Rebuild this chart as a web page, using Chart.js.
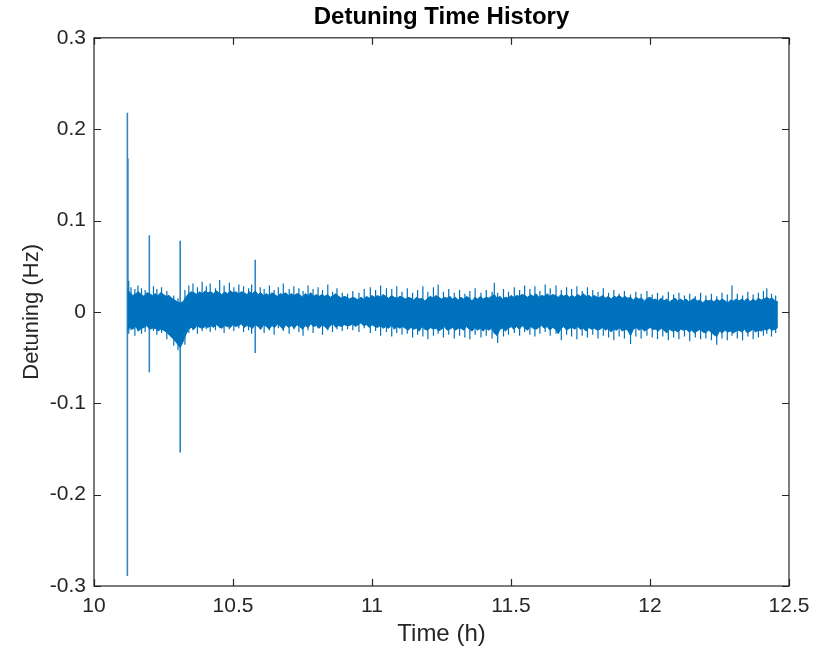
<!DOCTYPE html>
<html lang="en">
<head>
  <meta charset="UTF-8">
  <title>Detuning Time History</title>
  <style>
    body {
      margin: 0;
      background: #ffffff;
    }
    .chart-box {
      width: 825px;
      height: 651px;
    }
  </style>
</head>
<body>
<div class="chart-box">
  <canvas id="detuningChart" width="825" height="651"></canvas>
</div>

<script src="https://cdn.jsdelivr.net/npm/chart.js"></script>
<script>
  // sample times (h) of the noise band envelope
  const times = [
    10.12, 10.13, 10.14, 10.15, 10.16, 10.17, 10.18, 10.19, 10.20, 10.21,
    10.22, 10.23, 10.24, 10.25, 10.26, 10.27, 10.28, 10.29, 10.30, 10.31,
    10.32, 10.33, 10.34, 10.35, 10.36, 10.37, 10.38, 10.39, 10.40, 10.41,
    10.42, 10.43, 10.44, 10.45, 10.46, 10.47, 10.48, 10.49, 10.50, 10.51,
    10.52, 10.53, 10.54, 10.55, 10.56, 10.57, 10.58, 10.59, 10.60, 10.61,
    10.62, 10.63, 10.64, 10.65, 10.66, 10.67, 10.68, 10.69, 10.70, 10.71,
    10.72, 10.73, 10.74, 10.75, 10.76, 10.77, 10.78, 10.79, 10.80, 10.81,
    10.82, 10.83, 10.84, 10.85, 10.86, 10.87, 10.88, 10.89, 10.90, 10.91,
    10.92, 10.93, 10.94, 10.95, 10.96, 10.97, 10.98, 10.99, 11.00, 11.01,
    11.02, 11.03, 11.04, 11.05, 11.06, 11.07, 11.08, 11.09, 11.10, 11.11,
    11.12, 11.13, 11.14, 11.15, 11.16, 11.17, 11.18, 11.19, 11.20, 11.21,
    11.22, 11.23, 11.24, 11.25, 11.26, 11.27, 11.28, 11.29, 11.30, 11.31,
    11.32, 11.33, 11.34, 11.35, 11.36, 11.37, 11.38, 11.39, 11.40, 11.41,
    11.42, 11.43, 11.44, 11.45, 11.46, 11.47, 11.48, 11.49, 11.50, 11.51,
    11.52, 11.53, 11.54, 11.55, 11.56, 11.57, 11.58, 11.59, 11.60, 11.61,
    11.62, 11.63, 11.64, 11.65, 11.66, 11.67, 11.68, 11.69, 11.70, 11.71,
    11.72, 11.73, 11.74, 11.75, 11.76, 11.77, 11.78, 11.79, 11.80, 11.81,
    11.82, 11.83, 11.84, 11.85, 11.86, 11.87, 11.88, 11.89, 11.90, 11.91,
    11.92, 11.93, 11.94, 11.95, 11.96, 11.97, 11.98, 11.99, 12.00, 12.01,
    12.02, 12.03, 12.04, 12.05, 12.06, 12.07, 12.08, 12.09, 12.10, 12.11,
    12.12, 12.13, 12.14, 12.15, 12.16, 12.17, 12.18, 12.19, 12.20, 12.21,
    12.22, 12.23, 12.24, 12.25, 12.26, 12.27, 12.28, 12.29, 12.30, 12.31,
    12.32, 12.33, 12.34, 12.35, 12.36, 12.37, 12.38, 12.39, 12.40, 12.41,
    12.42, 12.43, 12.44, 12.45, 12.46
  ];

  // upper edge of the dense part of the band (Hz)
  const upperEdge = [
    0.024, 0.021, 0.018, 0.020, 0.022, 0.019, 0.017, 0.021, 0.020, 0.018,
    0.020, 0.018, 0.021, 0.019, 0.017, 0.018, 0.015, 0.013, 0.011, 0.010,
    0.011, 0.016, 0.020, 0.022, 0.021, 0.019, 0.022, 0.020, 0.023, 0.021,
    0.022, 0.020, 0.023, 0.021, 0.019, 0.022, 0.020, 0.023, 0.021, 0.022,
    0.020, 0.022, 0.021, 0.019, 0.022, 0.020, 0.023, 0.019, 0.021, 0.018,
    0.020, 0.018, 0.021, 0.019, 0.017, 0.020, 0.019, 0.021, 0.018, 0.020,
    0.018, 0.020, 0.019, 0.016, 0.020, 0.018, 0.021, 0.017, 0.019, 0.017,
    0.019, 0.017, 0.019, 0.016, 0.018, 0.020, 0.017, 0.015, 0.017, 0.016,
    0.014, 0.016, 0.015, 0.013, 0.016, 0.014, 0.017, 0.015, 0.018, 0.016,
    0.018, 0.016, 0.019, 0.017, 0.015, 0.018, 0.016, 0.015, 0.017, 0.016,
    0.014, 0.016, 0.015, 0.013, 0.016, 0.014, 0.015, 0.012, 0.015, 0.017,
    0.015, 0.018, 0.016, 0.014, 0.016, 0.015, 0.017, 0.014, 0.016, 0.013,
    0.016, 0.014, 0.017, 0.015, 0.012, 0.016, 0.014, 0.017, 0.014, 0.016,
    0.015, 0.017, 0.019, 0.015, 0.017, 0.014, 0.016, 0.015, 0.018, 0.016,
    0.018, 0.017, 0.019, 0.018, 0.016, 0.019, 0.017, 0.020, 0.016, 0.018,
    0.017, 0.020, 0.017, 0.019, 0.018, 0.016, 0.019, 0.017, 0.019, 0.016,
    0.018, 0.016, 0.019, 0.017, 0.020, 0.017, 0.018, 0.016, 0.018, 0.016,
    0.016, 0.018, 0.015, 0.017, 0.014, 0.017, 0.016, 0.018, 0.015, 0.017,
    0.015, 0.016, 0.013, 0.016, 0.014, 0.015, 0.012, 0.015, 0.016, 0.013,
    0.014, 0.012, 0.015, 0.012, 0.014, 0.011, 0.013, 0.015, 0.012, 0.014,
    0.012, 0.014, 0.011, 0.013, 0.015, 0.012, 0.013, 0.010, 0.013, 0.012,
    0.013, 0.011, 0.014, 0.012, 0.014, 0.012, 0.010, 0.013, 0.012, 0.014,
    0.012, 0.014, 0.012, 0.015, 0.011, 0.014, 0.012, 0.015, 0.013, 0.014,
    0.016, 0.014, 0.015, 0.012, 0.011
  ];

  // lower edge of the dense part of the band (Hz)
  const lowerEdge = [
    -0.020, -0.017, -0.019, -0.016, -0.021, -0.018, -0.017, -0.015, -0.019, -0.018,
    -0.018, -0.021, -0.019, -0.020, -0.022, -0.025, -0.028, -0.031, -0.035, -0.039,
    -0.033, -0.025, -0.019, -0.017, -0.019, -0.015, -0.017, -0.018, -0.016, -0.017,
    -0.015, -0.017, -0.014, -0.016, -0.018, -0.015, -0.016, -0.017, -0.014, -0.016,
    -0.015, -0.013, -0.017, -0.015, -0.016, -0.018, -0.014, -0.016, -0.019, -0.014,
    -0.016, -0.019, -0.015, -0.017, -0.013, -0.016, -0.019, -0.014, -0.017, -0.015,
    -0.018, -0.014, -0.016, -0.019, -0.015, -0.017, -0.013, -0.016, -0.015, -0.018,
    -0.014, -0.016, -0.019, -0.015, -0.013, -0.017, -0.015, -0.016, -0.014, -0.015,
    -0.015, -0.013, -0.016, -0.014, -0.012, -0.015, -0.014, -0.017, -0.014, -0.016,
    -0.017, -0.015, -0.018, -0.016, -0.018, -0.014, -0.019, -0.016, -0.018, -0.016,
    -0.018, -0.020, -0.017, -0.019, -0.018, -0.021, -0.016, -0.019, -0.020, -0.017,
    -0.019, -0.018, -0.021, -0.019, -0.016, -0.020, -0.019, -0.017, -0.020, -0.018,
    -0.018, -0.020, -0.016, -0.019, -0.021, -0.017, -0.020, -0.018, -0.021, -0.018,
    -0.020, -0.018, -0.023, -0.026, -0.019, -0.018, -0.021, -0.018, -0.016, -0.019,
    -0.016, -0.019, -0.015, -0.018, -0.020, -0.016, -0.018, -0.019, -0.017, -0.015,
    -0.018, -0.016, -0.020, -0.017, -0.019, -0.024, -0.018, -0.016, -0.020, -0.018,
    -0.017, -0.019, -0.016, -0.019, -0.018, -0.021, -0.017, -0.019, -0.018, -0.020,
    -0.019, -0.017, -0.020, -0.018, -0.022, -0.019, -0.020, -0.017, -0.021, -0.019,
    -0.020, -0.026, -0.019, -0.017, -0.020, -0.018, -0.021, -0.019, -0.017, -0.019,
    -0.019, -0.021, -0.018, -0.020, -0.023, -0.019, -0.021, -0.020, -0.022, -0.019,
    -0.020, -0.019, -0.022, -0.020, -0.023, -0.021, -0.019, -0.022, -0.023, -0.020,
    -0.022, -0.025, -0.027, -0.021, -0.023, -0.020, -0.022, -0.021, -0.023, -0.021,
    -0.020, -0.022, -0.019, -0.023, -0.021, -0.019, -0.022, -0.020, -0.021, -0.019,
    -0.020, -0.018, -0.020, -0.019, -0.017
  ];

  // thin noise excursions poking out of the band: time (h), top, bottom (Hz)
  const whiskerTimes = [
    10.125, 10.133, 10.147, 10.158, 10.171, 10.184, 10.214, 10.226, 10.243, 10.262,
    10.287, 10.302, 10.327, 10.341, 10.356, 10.372, 10.389, 10.404, 10.418, 10.437,
    10.452, 10.468, 10.487, 10.503, 10.521, 10.538, 10.556, 10.567, 10.598, 10.612,
    10.631, 10.648, 10.663, 10.681, 10.702, 10.719, 10.737, 10.752, 10.770, 10.788,
    10.806, 10.822, 10.841, 10.858, 10.874, 10.893, 10.912, 10.931, 10.953, 10.972,
    10.994, 11.013, 11.031, 11.052, 11.071, 11.089, 11.108, 11.127, 11.146, 11.164,
    11.183, 11.201, 11.221, 11.238, 11.257, 11.276, 11.296, 11.315, 11.334, 11.352,
    11.371, 11.392, 11.411, 11.432, 11.440, 11.452, 11.473, 11.491, 11.512, 11.531,
    11.549, 11.568, 11.586, 11.604, 11.623, 11.641, 11.662, 11.681, 11.700, 11.718,
    11.737, 11.756, 11.775, 11.794, 11.813, 11.832, 11.851, 11.870, 11.889, 11.908,
    11.930, 11.949, 11.968, 11.989, 12.008, 12.027, 12.046, 12.066, 12.085, 12.104,
    12.124, 12.143, 12.163, 12.182, 12.201, 12.221, 12.240, 12.259, 12.278, 12.295,
    12.314, 12.333, 12.352, 12.371, 12.390, 12.408, 12.420, 12.437, 12.452
  ];
  const whiskerTop = [
    0.034, 0.027, 0.025, 0.029, 0.026, 0.024, 0.028, 0.025, 0.027, 0.023,
    0.018, 0.015, 0.024, 0.029, 0.031, 0.027, 0.033, 0.028, 0.031, 0.026,
    0.035, 0.029, 0.032, 0.027, 0.030, 0.028, 0.026, 0.030, 0.027, 0.025,
    0.029, 0.024, 0.027, 0.031, 0.025, 0.028, 0.026, 0.023, 0.029, 0.025,
    0.027, 0.024, 0.030, 0.022, 0.026, 0.021, 0.020, 0.023, 0.021, 0.025,
    0.027, 0.024, 0.029, 0.026, 0.025, 0.028, 0.022, 0.026, 0.021, 0.024,
    0.028, 0.022, 0.027, 0.030, 0.022, 0.025, 0.021, 0.024, 0.020, 0.023,
    0.026, 0.021, 0.024, 0.022, 0.032, 0.021, 0.025, 0.022, 0.027, 0.024,
    0.029, 0.025, 0.028, 0.023, 0.030, 0.026, 0.029, 0.024, 0.027, 0.025,
    0.028, 0.023, 0.027, 0.024, 0.022, 0.026, 0.021, 0.024, 0.020, 0.023,
    0.019, 0.022, 0.020, 0.023, 0.019, 0.021, 0.018, 0.022, 0.019, 0.021,
    0.018, 0.020, 0.017, 0.021, 0.018, 0.020, 0.017, 0.021, 0.019, 0.029,
    0.020, 0.018, 0.022, 0.019, 0.021, 0.023, 0.026, 0.020, 0.018
  ];
  const whiskerBottom = [
    -0.024, -0.020, -0.026, -0.021, -0.024, -0.022, -0.021, -0.025, -0.023, -0.030,
    -0.037, -0.042, -0.036, -0.023, -0.020, -0.024, -0.021, -0.019, -0.022, -0.020,
    -0.018, -0.023, -0.019, -0.021, -0.018, -0.022, -0.020, -0.024, -0.019, -0.023,
    -0.020, -0.025, -0.018, -0.021, -0.024, -0.019, -0.022, -0.026, -0.020, -0.023,
    -0.018, -0.025, -0.020, -0.022, -0.019, -0.021, -0.019, -0.020, -0.022, -0.018,
    -0.023, -0.021, -0.026, -0.022, -0.027, -0.023, -0.025, -0.024, -0.028, -0.025,
    -0.027, -0.030, -0.026, -0.024, -0.028, -0.025, -0.029, -0.026, -0.028, -0.030,
    -0.025, -0.028, -0.026, -0.029, -0.024, -0.034, -0.027, -0.025, -0.023, -0.026,
    -0.022, -0.025, -0.027, -0.024, -0.022, -0.026, -0.024, -0.031, -0.025, -0.027,
    -0.030, -0.026, -0.028, -0.025, -0.029, -0.026, -0.028, -0.031, -0.027, -0.029,
    -0.035, -0.027, -0.029, -0.026, -0.028, -0.030, -0.027, -0.031, -0.028, -0.030,
    -0.027, -0.032, -0.028, -0.030, -0.029, -0.031, -0.036, -0.029, -0.031, -0.026,
    -0.029, -0.031, -0.027, -0.030, -0.028, -0.026, -0.024, -0.027, -0.023
  ];

  // isolated spikes: time (h), top and bottom of each spike (Hz)
  const spikeTimes = [10.120, 10.122, 10.199, 10.310, 10.580];
  const spikeHigh  = [0.218, 0.168, 0.084, 0.078, 0.057];
  const spikeLow   = [-0.289, -0.020, -0.066, -0.154, -0.045];

  const xTicks = [10, 10.5, 11, 11.5, 12, 12.5];
  const yTicks = [-0.3, -0.2, -0.1, 0, 0.1, 0.2, 0.3];

  const lineBlue = '#0072BD';
  const axisGrey = '#262626';
  const fontFamily = "'Liberation Sans', Arial, sans-serif";

  // vertical segments separated by gaps
  function segments(ts, hi, lo) {
    const pts = [];
    ts.forEach((t, i) => {
      pts.push({ x: t, y: hi[i] });
      pts.push({ x: t, y: lo[i] });
      pts.push({ x: t, y: null });
    });
    return pts;
  }

  const upperPoints = times.map((t, i) => ({ x: t, y: upperEdge[i] }));
  const lowerPoints = times.map((t, i) => ({ x: t, y: lowerEdge[i] }));
  const whiskerPoints = segments(whiskerTimes, whiskerTop, whiskerBottom);
  const spikePoints = segments(spikeTimes, spikeHigh, spikeLow);

  // matlab style box with ticks pointing inwards
  const boxTicks = {
    id: 'boxTicks',
    afterDraw(chart) {
      const { ctx, chartArea: a, scales } = chart;
      const len = 7;
      ctx.save();
      ctx.strokeStyle = axisGrey;
      ctx.lineWidth = 1.2;
      ctx.strokeRect(a.left, a.top, a.right - a.left, a.bottom - a.top);
      ctx.beginPath();
      xTicks.forEach(v => {
        const px = Math.round(scales.x.getPixelForValue(v)) + 0.5;
        ctx.moveTo(px, a.bottom);
        ctx.lineTo(px, a.bottom - len);
        ctx.moveTo(px, a.top);
        ctx.lineTo(px, a.top + len);
      });
      yTicks.forEach(v => {
        const py = Math.round(scales.y.getPixelForValue(v)) + 0.5;
        ctx.moveTo(a.left, py);
        ctx.lineTo(a.left + len, py);
        ctx.moveTo(a.right, py);
        ctx.lineTo(a.right - len, py);
      });
      ctx.stroke();
      ctx.restore();
    }
  };

  const ctx = document.getElementById('detuningChart').getContext('2d');
  const detuningChart = new Chart(ctx, {
    type: 'line',
    data: {
      datasets: [
        {
          label: 'upper',
          data: upperPoints,
          borderColor: lineBlue,
          backgroundColor: lineBlue,
          borderWidth: 1,
          pointRadius: 0,
          tension: 0,
          fill: '+1'
        },
        {
          label: 'lower',
          data: lowerPoints,
          borderColor: lineBlue,
          borderWidth: 1,
          pointRadius: 0,
          tension: 0,
          fill: false
        },
        {
          label: 'whiskers',
          data: whiskerPoints,
          borderColor: lineBlue,
          borderWidth: 1.2,
          pointRadius: 0,
          spanGaps: false,
          fill: false
        },
        {
          label: 'spikes',
          data: spikePoints,
          borderColor: '#2f86c8',
          borderWidth: 1.6,
          pointRadius: 0,
          spanGaps: false,
          fill: false
        }
      ]
    },
    options: {
      responsive: false,
      animation: false,
      devicePixelRatio: 1,
      layout: {
        padding: { left: 0, right: 36, top: 0, bottom: 0 }
      },
      plugins: {
        legend: { display: false },
        tooltip: { enabled: false },
        title: {
          display: true,
          fullSize: false,
          text: 'Detuning Time History',
          color: '#000000',
          font: { family: fontFamily, size: 24, weight: 'bold' },
          padding: { top: 3, bottom: 6 }
        }
      },
      scales: {
        x: {
          type: 'linear',
          min: 10,
          max: 12.5,
          afterFit: s => { s.height = 65; },
          afterBuildTicks: s => { s.ticks = xTicks.map(v => ({ value: v })); },
          grid: { display: false, drawTicks: false },
          border: { display: false },
          ticks: {
            color: axisGrey,
            padding: 8,
            maxRotation: 0,
            font: { family: fontFamily, size: 21 },
            callback: v => String(v)
          },
          title: {
            display: true,
            text: 'Time (h)',
            color: axisGrey,
            padding: { top: 2, bottom: 2 },
            font: { family: fontFamily, size: 24 }
          }
        },
        y: {
          type: 'linear',
          min: -0.3,
          max: 0.3,
          afterFit: s => { s.width = 94; },
          afterBuildTicks: s => { s.ticks = yTicks.map(v => ({ value: v })); },
          grid: { display: false, drawTicks: false },
          border: { display: false },
          ticks: {
            color: axisGrey,
            padding: 8,
            font: { family: fontFamily, size: 21 },
            callback: v => String(+v.toFixed(1))
          },
          title: {
            display: true,
            text: 'Detuning (Hz)',
            color: axisGrey,
            padding: { top: 19, bottom: 0 },
            font: { family: fontFamily, size: 22 }
          }
        }
      }
    },
    plugins: [boxTicks]
  });
</script>
</body>
</html>
